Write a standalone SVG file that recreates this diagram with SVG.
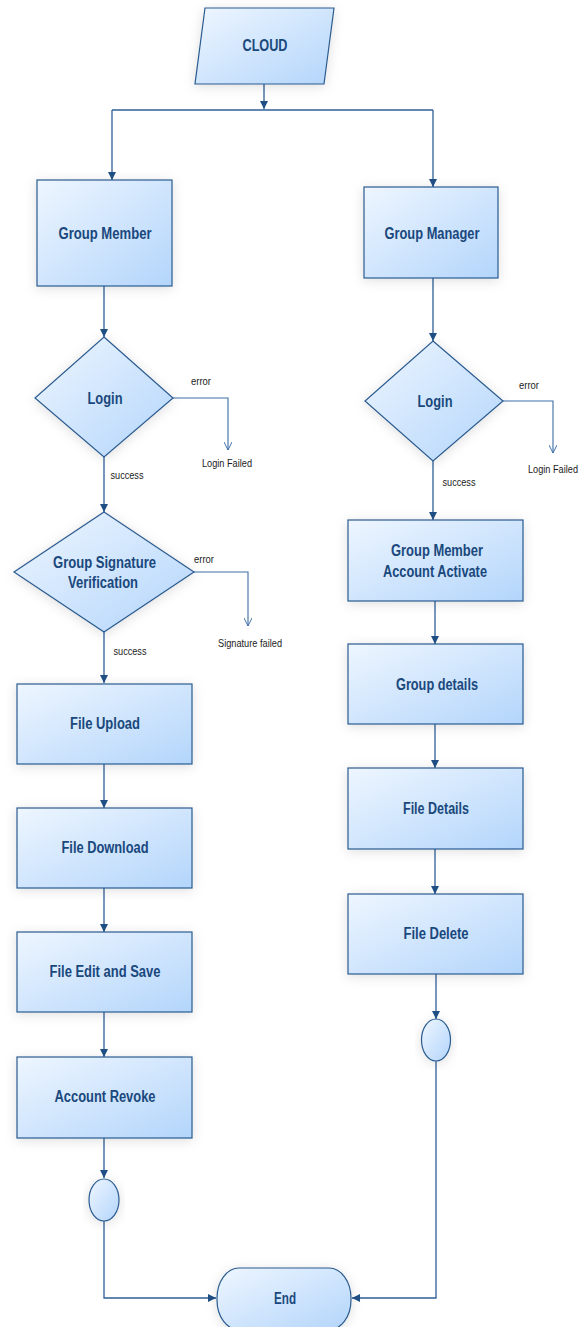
<svg xmlns="http://www.w3.org/2000/svg" width="586" height="1327" viewBox="0 0 586 1327">
<defs>
<linearGradient id="fill" x1="0" y1="0" x2="1" y2="1">
<stop offset="0" stop-color="#eef6ff"/>
<stop offset="1" stop-color="#b3d5fb"/>
</linearGradient>
<filter id="sh" x="-20%" y="-20%" width="140%" height="140%">
<feDropShadow dx="0" dy="2" stdDeviation="6" flood-color="#000" flood-opacity="0.13"/>
</filter>
<marker id="ah" viewBox="0 0 10 10" refX="10" refY="5" markerWidth="8" markerHeight="8" markerUnits="userSpaceOnUse" orient="auto">
<path d="M0,0 L10,5 L0,10 z" fill="#1f4f86"/>
</marker>
<marker id="av" viewBox="0 0 10 10" refX="10" refY="5" markerWidth="10" markerHeight="8" markerUnits="userSpaceOnUse" orient="auto">
<path d="M0,0 L10,5 L0,10" fill="none" stroke="#3d6ea6" stroke-width="1.2"/>
</marker>
</defs>
<style>
.n{fill:url(#fill);stroke:#2b5b8f;stroke-width:1.2;filter:url(#sh)}
.t{font-family:"Liberation Sans",Arial,sans-serif;font-weight:bold;font-size:16px;fill:#1a487c;text-anchor:middle}
.s{font-family:"Liberation Sans",Arial,sans-serif;font-size:10.5px;fill:#1a1a1a;text-anchor:middle}
.c{fill:none;stroke:#2e5f96;stroke-width:1.3}
.e{fill:none;stroke:#3d6ea6;stroke-width:1.1}
</style>
<rect width="586" height="1327" fill="#fff"/>

<g id="connectors">
<path class="c" d="M264,84 V109" marker-end="url(#ah)"/>
<path class="c" d="M112,110 H433"/>
<path class="c" d="M112,110 V180" marker-end="url(#ah)"/>
<path class="c" d="M433,110 V187" marker-end="url(#ah)"/>
<path class="c" d="M104,286 V337" marker-end="url(#ah)"/>
<path class="c" d="M104,457 V512" marker-end="url(#ah)"/>
<path class="c" d="M104,632 V683" marker-end="url(#ah)"/>
<path class="c" d="M104,764 V808" marker-end="url(#ah)"/>
<path class="c" d="M104,888 V932" marker-end="url(#ah)"/>
<path class="c" d="M104,1012 V1057" marker-end="url(#ah)"/>
<path class="c" d="M104,1138 V1178" marker-end="url(#ah)"/>
<path class="c" d="M104,1221 V1298 H216" marker-end="url(#ah)"/>
<path class="e" d="M173,398 H228 V450" marker-end="url(#av)"/>
<path class="e" d="M194,572 H248 V626" marker-end="url(#av)"/>
<path class="c" d="M433,278 V341" marker-end="url(#ah)"/>
<path class="c" d="M433,461 V520" marker-end="url(#ah)"/>
<path class="c" d="M435,601 V644" marker-end="url(#ah)"/>
<path class="c" d="M435,724 V768" marker-end="url(#ah)"/>
<path class="c" d="M435,849 V894" marker-end="url(#ah)"/>
<path class="c" d="M436,974 V1019" marker-end="url(#ah)"/>
<path class="c" d="M436,1061 V1298 H352" marker-end="url(#ah)"/>
<path class="e" d="M503,401 H553 V453" marker-end="url(#av)"/>
<text class="s" x="201" y="385" textLength="20" lengthAdjust="spacingAndGlyphs">error</text>
<text class="s" x="227" y="467" textLength="50" lengthAdjust="spacingAndGlyphs">Login Failed</text>
<text class="s" x="127" y="479" textLength="33" lengthAdjust="spacingAndGlyphs">success</text>
<text class="s" x="204" y="563" textLength="20" lengthAdjust="spacingAndGlyphs">error</text>
<text class="s" x="250" y="647" textLength="64" lengthAdjust="spacingAndGlyphs">Signature failed</text>
<text class="s" x="130" y="655" textLength="33" lengthAdjust="spacingAndGlyphs">success</text>
<text class="s" x="529" y="389" textLength="20" lengthAdjust="spacingAndGlyphs">error</text>
<text class="s" x="553" y="473" textLength="50" lengthAdjust="spacingAndGlyphs">Login Failed</text>
<text class="s" x="459" y="486" textLength="33" lengthAdjust="spacingAndGlyphs">success</text>
</g>

<g id="cloud">
<polygon class="n" points="205,8 334,8 324,84 195,84"/>
<text class="t" x="265" y="51" textLength="45" lengthAdjust="spacingAndGlyphs">CLOUD</text>
</g>

<g id="group-member">
<rect class="n" x="37" y="180" width="135" height="106"/>
<text class="t" x="105" y="238.5" textLength="93" lengthAdjust="spacingAndGlyphs">Group Member</text>
</g>

<g id="login-left">
<polygon class="n" points="104,337 173,398 104,457 35,398"/>
<text class="t" x="105" y="403.5" textLength="35" lengthAdjust="spacingAndGlyphs">Login</text>
</g>

<g id="signature">
<polygon class="n" points="104,512 194,572 104,632 14,572"/>
<text class="t" x="104.5" y="567.5" textLength="103" lengthAdjust="spacingAndGlyphs">Group Signature</text>
<text class="t" x="103" y="587.5" textLength="70" lengthAdjust="spacingAndGlyphs">Verification</text>
</g>

<g id="file-upload">
<rect class="n" x="17" y="684" width="175" height="80"/>
<text class="t" x="105" y="728.5" textLength="70" lengthAdjust="spacingAndGlyphs">File Upload</text>
</g>

<g id="file-download">
<rect class="n" x="17" y="808" width="175" height="80"/>
<text class="t" x="105" y="852.5" textLength="87" lengthAdjust="spacingAndGlyphs">File Download</text>
</g>

<g id="file-edit">
<rect class="n" x="17" y="932" width="175" height="80"/>
<text class="t" x="105" y="976.5" textLength="111" lengthAdjust="spacingAndGlyphs">File Edit and Save</text>
</g>

<g id="account-revoke">
<rect class="n" x="17" y="1057" width="175" height="81"/>
<text class="t" x="105" y="1101.5" textLength="101" lengthAdjust="spacingAndGlyphs">Account Revoke</text>
</g>

<g id="end-left">
<ellipse class="n" cx="104" cy="1200" rx="15" ry="21"/>
</g>

<g id="group-manager">
<rect class="n" x="364" y="187" width="134" height="91"/>
<text class="t" x="432" y="238.5" textLength="95" lengthAdjust="spacingAndGlyphs">Group Manager</text>
</g>

<g id="login-right">
<polygon class="n" points="433,341 503,401 433,461 365,401"/>
<text class="t" x="435" y="406.5" textLength="35" lengthAdjust="spacingAndGlyphs">Login</text>
</g>

<g id="account-activate">
<rect class="n" x="348" y="520" width="175" height="81"/>
<text class="t" x="437" y="555.5" textLength="92" lengthAdjust="spacingAndGlyphs">Group Member</text>
<text class="t" x="435" y="576.5" textLength="104" lengthAdjust="spacingAndGlyphs">Account Activate</text>
</g>

<g id="group-details">
<rect class="n" x="348" y="644" width="175" height="80"/>
<text class="t" x="437" y="689.5" textLength="82" lengthAdjust="spacingAndGlyphs">Group details</text>
</g>

<g id="file-details">
<rect class="n" x="348" y="768" width="175" height="81"/>
<text class="t" x="436" y="813.5" textLength="66" lengthAdjust="spacingAndGlyphs">File Details</text>
</g>

<g id="file-delete">
<rect class="n" x="348" y="894" width="175" height="80"/>
<text class="t" x="436" y="938.5" textLength="65" lengthAdjust="spacingAndGlyphs">File Delete</text>
</g>

<g id="end-right">
<ellipse class="n" cx="436" cy="1040" rx="14.5" ry="21"/>
</g>

<g id="end">
<rect class="n" x="217" y="1268" width="134" height="62" rx="22" ry="30"/>
<text class="t" x="285" y="1303.5" textLength="22" lengthAdjust="spacingAndGlyphs">End</text>
</g>
</svg>
